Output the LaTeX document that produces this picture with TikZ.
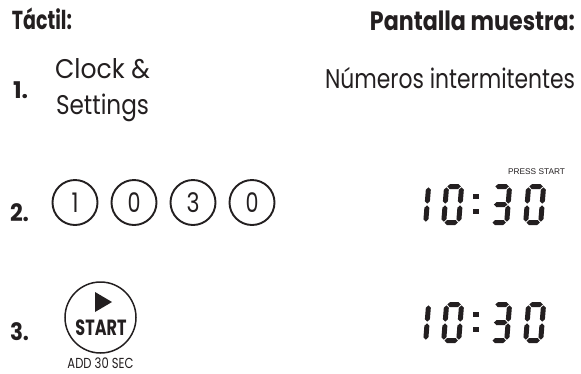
\documentclass[tikz,border=0pt]{standalone}
\usepackage{fontspec}
\setmainfont{Poppins}
\newfontfamily\lcdlabel{Liberation Sans}
\usepackage{graphicx}
\definecolor{ink}{RGB}{35,31,32}
\newcommand\fitto[2]{\resizebox{#1}{\height}{#2}}
\tikzset{
  lcdseg/.style={fill=ink},
  txt/.style={inner sep=0pt, outer sep=0pt, text=ink},
  keybtn/.style={circle, draw=ink, line width=1.9pt, minimum size=45pt, inner sep=0pt, text=ink},
  startbtn/.style={circle, draw=ink, line width=1.5pt, minimum size=71pt, inner sep=0pt},
}
\newcommand\lcdA{\fill[lcdseg] (3.3,-38.5) -- (5.8,-41) -- (14.2,-41) -- (16.7,-38.5) -- (14.2,-36) -- (5.8,-36) -- cycle;}
\newcommand\lcdB{\fill[lcdseg] (17.5,-37.7) -- (20,-35.2) -- (20,-23.8) -- (17.5,-21.3) -- (15,-23.8) -- (15,-35.2) -- cycle;}
\newcommand\lcdC{\fill[lcdseg] (17.5,-19.7) -- (20,-17.2) -- (20,-5.8) -- (17.5,-3.3) -- (15,-5.8) -- (15,-17.2) -- cycle;}
\newcommand\lcdD{\fill[lcdseg] (3.3,-2.5) -- (5.8,-5) -- (14.2,-5) -- (16.7,-2.5) -- (14.2,0) -- (5.8,0) -- cycle;}
\newcommand\lcdE{\fill[lcdseg] (2.5,-19.7) -- (5,-17.2) -- (5,-5.8) -- (2.5,-3.3) -- (0,-5.8) -- (0,-17.2) -- cycle;}
\newcommand\lcdF{\fill[lcdseg] (2.5,-37.7) -- (5,-35.2) -- (5,-23.8) -- (2.5,-21.3) -- (0,-23.8) -- (0,-35.2) -- cycle;}
\newcommand\lcdG{\fill[lcdseg] (3.3,-20.5) -- (5.8,-23) -- (14.2,-23) -- (16.7,-20.5) -- (14.2,-18) -- (5.8,-18) -- cycle;}
\newcommand\lcddigit[3]{\begin{scope}[shift={(#1,#2)},xslant=0.08]\foreach \s in {#3}{\csname lcd\s\endcsname}\end{scope}}
\begin{document}
\begin{tikzpicture}[x=1pt,y=-1pt]
\fill[white] (0,0) rectangle (581,373);
\useasboundingbox (0,0) rectangle (581,373);
% headings
\node[txt, anchor=base west] (hTouch) at (12,29.5) {\fontsize{26}{26}\selectfont\fitto{60pt}{\bfseries Táctil:}};
\node[txt, anchor=base east] (hShow) at (575,30) {\fontsize{26.5}{26}\selectfont\fitto{205pt}{\bfseries Pantalla muestra:}};
% step 1
\node[txt, anchor=base west] (n1) at (13,98) {\fontsize{23}{23}\selectfont\fitto{15pt}{\bfseries 1.}};
\node[txt, anchor=base west] (clock) at (55,78) {\fontsize{27}{27}\selectfont\fitto{95pt}{Clock \&}};
\node[txt, anchor=base west] (settings) at (56,114) {\fontsize{27}{27}\selectfont\fitto{93pt}{Settings}};
\node[txt, anchor=base east] (blink) at (575,88) {\fontsize{27}{27}\selectfont\fitto{250pt}{Números intermitentes}};
% step 2
\node[txt, anchor=base west] (n2) at (10,221) {\fontsize{24}{24}\selectfont\fitto{19pt}{\bfseries 2.}};
\node[keybtn] (k1) at (75,202.5) {\fontsize{27}{27}\selectfont\fitto{7pt}{1}};
\node[keybtn] (k2) at (134,202.5) {\fontsize{27}{27}\selectfont\fitto{13pt}{0}};
\node[keybtn] (k3) at (193,202.5) {\fontsize{27}{27}\selectfont\fitto{13pt}{3}};
\node[keybtn] (k4) at (252,202.5) {\fontsize{27}{27}\selectfont\fitto{13pt}{0}};
\node[txt, anchor=base east] (press) at (565,174) {\lcdlabel\fontsize{8.3}{8.3}\selectfont PRESS START};
\lcddigit{408}{225}{B,C}
\lcddigit{441}{225}{A,B,C,D,E,F}
\fill[lcdseg] (473,194) rectangle (479,199);
\fill[lcdseg] (473,209) rectangle (479,214);
\lcddigit{489}{225}{A,B,C,D,G}
\lcddigit{523}{225}{A,B,C,D,E,F}
% step 3
\node[txt, anchor=base west] (n3) at (10,340) {\fontsize{24}{24}\selectfont\fitto{19pt}{\bfseries 3.}};
\node[startbtn] (start) at (100.5,317.5) {};
\fill[ink] (95,292) -- (95,312) -- (112,302) -- cycle;
\node[txt, anchor=base] (startlbl) at (101,335) {\fontsize{22}{22}\selectfont\fitto{51pt}{\bfseries START}};
\node[txt, anchor=base] (add30) at (100.5,368.5) {\fontsize{14.5}{14.5}\selectfont\fitto{66pt}{ADD 30 SEC}};
\lcddigit{408}{343}{B,C}
\lcddigit{441}{343}{A,B,C,D,E,F}
\fill[lcdseg] (473,312) rectangle (479,317);
\fill[lcdseg] (473,327) rectangle (479,332);
\lcddigit{489}{343}{A,B,C,D,G}
\lcddigit{523}{343}{A,B,C,D,E,F}
\end{tikzpicture}
\end{document}
